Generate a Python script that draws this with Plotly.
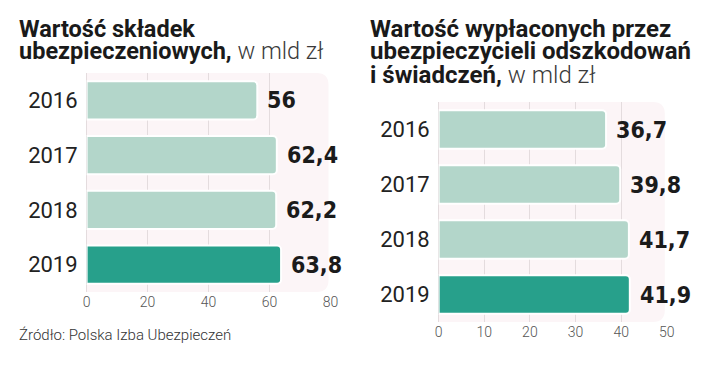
import plotly.graph_objects as go

W, H = 720, 379

years = ["2016", "2017", "2018", "2019"]
premiums = [56, 62.4, 62.2, 63.8]
payouts = [36.7, 39.8, 41.7, 41.9]
left_ticks = [0, 20, 40, 60, 80]
right_ticks = [0, 10, 20, 30, 40, 50]

LIGHT_SPAN = "<span style='font-weight:300;color:#3a3a3a'>%s</span>"
title_left = ["<b>Wartość składek</b>", "<b>ubezpieczeniowych,</b> " + LIGHT_SPAN % "w mld zł"]
title_right = ["<b>Wartość wypłaconych przez</b>", "<b>ubezpieczycieli odszkodowań</b>",
               "<b>i świadczeń,</b> " + LIGHT_SPAN % "w mld zł"]
source = "Źródło: Polska Izba Ubezpieczeń"

LIGHT = "#b3d6ca"
DARK = "#27a08b"
colors = [LIGHT, LIGHT, LIGHT, DARK]


def px(x):
    return x / W


def py(y):
    return 1 - y / H


fig = go.Figure()

panels = [
    dict(vals=premiums, xa="x", ya="y", xd=(84, 332), yd=(73, 292), rng=[0, 80], ticks=left_ticks, bg=(84, 330)),
    dict(vals=payouts, xa="x2", ya="y2", xd=(442, 674), yd=(102, 322), rng=[0, 50], ticks=right_ticks, bg=(442, 672)),
]

shapes = []
annotations = []
for i, p in enumerate(panels):
    fig.add_trace(go.Bar(
        x=p["vals"], y=years, orientation="h", xaxis=p["xa"], yaxis=p["ya"],
        marker=dict(color=colors, line=dict(color="white", width=2), cornerradius=4),
        hoverinfo="skip", showlegend=False,
    ))
    for j, v in enumerate(p["vals"]):
        annotations.append(dict(
            x=v, y=j, xref=p["xa"], yref=p["ya"], xanchor="left", yanchor="middle",
            xshift=8, showarrow=False,
            text="<b>" + ("%g" % v).replace(".", ",") + "</b>",
            font=dict(family="DejaVu Sans Condensed, sans-serif", size=23, color="#1b1b1b"),
        ))
    # rounded background panel
    x0, x1 = px(p["bg"][0]), px(p["bg"][1])
    y0, y1 = py(p["yd"][1]), py(p["yd"][0])
    rx, ry = 12 / W, 12 / H
    path = (f"M {x0},{y0} L {x0},{y1} L {x1-rx},{y1} Q {x1},{y1} {x1},{y1-ry} "
            f"L {x1},{y0+ry} Q {x1},{y0} {x1-rx},{y0} Z")
    shapes.append(dict(type="path", path=path, xref="paper", yref="paper",
                       fillcolor="#fcf5f7", line=dict(width=0), layer="below"))

    axname = "xaxis" if i == 0 else "xaxis2"
    yname = "yaxis" if i == 0 else "yaxis2"
    fig.update_layout(**{
        axname: dict(domain=[px(p["xd"][0]), px(p["xd"][1])], range=p["rng"],
                     tickvals=p["ticks"], showgrid=True, gridcolor="#e4dcde", gridwidth=1,
                     zeroline=True, zerolinecolor="#e4dcde", zerolinewidth=1,
                     showline=False, ticks="", anchor=p["ya"],
                     tickfont=dict(family="Roboto", size=14, color="#555555", weight=300)),
        yname: dict(domain=[py(p["yd"][1]), py(p["yd"][0])], type="category",
                    range=[3.5, -0.5], showgrid=False, zeroline=False, showline=False,
                    ticks="", anchor=p["xa"], ticklabelstandoff=8,
                    tickfont=dict(family="Roboto", size=22, color="#222222")),
    })

# titles
for k, line in enumerate(title_left):
    annotations.append(dict(x=px(13), y=py(28.5 + 22.5 * k), xref="paper", yref="paper",
                            xanchor="left", yanchor="middle", showarrow=False,
                            text=line, font=dict(family="Roboto", size=23.5, color="#1a1a1a")))
for k, line in enumerate(title_right):
    annotations.append(dict(x=px(370), y=py(28.5 + 23 * k), xref="paper", yref="paper",
                            xanchor="left", yanchor="middle", showarrow=False,
                            text=line, font=dict(family="Roboto", size=24, color="#1a1a1a")))
annotations.append(dict(x=px(13), y=py(335), xref="paper", yref="paper",
                        xanchor="left", yanchor="middle", showarrow=False, text=source,
                        font=dict(family="Roboto", size=15, color="#333333", weight=300)))

fig.update_layout(
    width=W, height=H, margin=dict(l=0, r=0, t=0, b=0),
    paper_bgcolor="white", plot_bgcolor="rgba(0,0,0,0)",
    bargap=0.3, shapes=shapes, annotations=annotations,
)

fig.write_html("out.html", config={"displayModeBar": False},
               post_script="document.body.style.margin='0px';")
